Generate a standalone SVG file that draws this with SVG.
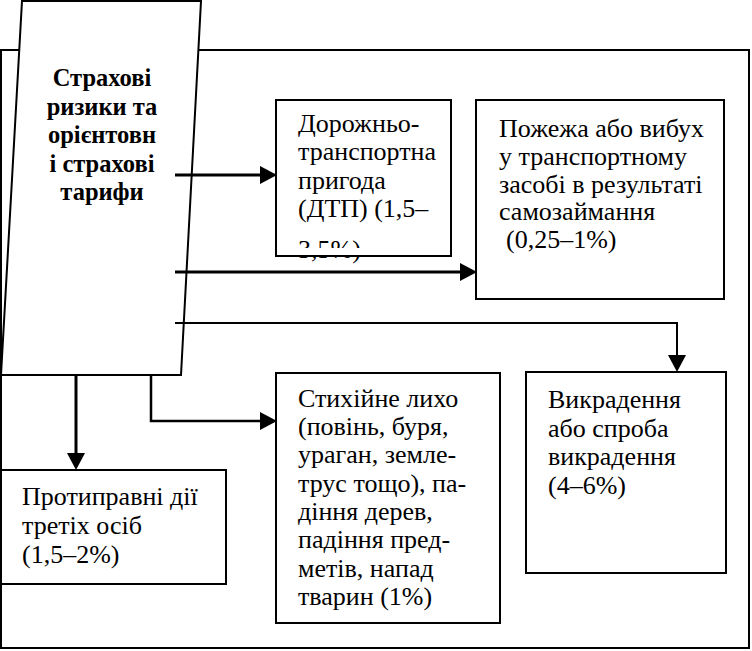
<svg xmlns="http://www.w3.org/2000/svg" width="752" height="651" viewBox="0 0 752 651">
<rect id="frame" x="1" y="50" width="748" height="598" fill="#fff" stroke="#000" stroke-width="2"/>
<g id="main">
<polygon points="22,1 201,1 181,375 1,375" fill="#fff" stroke="#000" stroke-width="2"/>
<text x="102" y="86" font-family="Liberation Serif" font-size="24.5" font-weight="bold" text-anchor="middle">Страхові</text>
<text x="102" y="115" font-family="Liberation Serif" font-size="24.5" font-weight="bold" text-anchor="middle">ризики та</text>
<text x="102" y="143" font-family="Liberation Serif" font-size="24.5" font-weight="bold" text-anchor="middle">орієнтовн</text>
<text x="102" y="172" font-family="Liberation Serif" font-size="24.5" font-weight="bold" text-anchor="middle">і страхові</text>
<text x="102" y="200" font-family="Liberation Serif" font-size="24.5" font-weight="bold" text-anchor="middle">тарифи</text>
</g>
<g id="dtp">
<rect x="276" y="100" width="175" height="156" fill="#fff" stroke="#000" stroke-width="2"/>
<text x="298" y="132" font-family="Liberation Serif" font-size="26">Дорожньо-</text>
<text x="298" y="160" font-family="Liberation Serif" font-size="26">транспортна</text>
<text x="298" y="189" font-family="Liberation Serif" font-size="26">пригода</text>
<text x="298" y="217" font-family="Liberation Serif" font-size="26">(ДТП) (1,5–</text>
<text x="298" y="258" font-family="Liberation Serif" font-size="26">3,5%)</text>
<rect x="277" y="248" width="173" height="7" fill="#fff"/>
</g>
<g id="fire">
<rect x="476" y="100" width="248" height="199" fill="#fff" stroke="#000" stroke-width="2"/>
<text x="499" y="137" font-family="Liberation Serif" font-size="26">Пожежа або вибух</text>
<text x="499" y="165" font-family="Liberation Serif" font-size="26">у транспортному</text>
<text x="499" y="193" font-family="Liberation Serif" font-size="26">засобі в результаті</text>
<text x="499" y="220" font-family="Liberation Serif" font-size="26">самозаймання</text>
<text x="506" y="248" font-family="Liberation Serif" font-size="26">(0,25–1%)</text>
</g>
<g id="theft">
<rect x="526" y="372" width="200" height="201" fill="#fff" stroke="#000" stroke-width="2"/>
<text x="548" y="408" font-family="Liberation Serif" font-size="26">Викрадення</text>
<text x="548" y="437" font-family="Liberation Serif" font-size="26">або спроба</text>
<text x="548" y="465" font-family="Liberation Serif" font-size="26">викрадення</text>
<text x="548" y="494" font-family="Liberation Serif" font-size="26">(4–6%)</text>
</g>
<g id="illegal">
<rect x="1" y="470" width="225" height="114" fill="#fff" stroke="#000" stroke-width="2"/>
<text x="22" y="505" font-family="Liberation Serif" font-size="26">Протиправні дії</text>
<text x="22" y="534" font-family="Liberation Serif" font-size="26">третіх осіб</text>
<text x="22" y="563" font-family="Liberation Serif" font-size="26">(1,5–2%)</text>
</g>
<g id="disaster">
<rect x="276" y="373" width="224" height="250" fill="#fff" stroke="#000" stroke-width="2"/>
<text x="298" y="407" font-family="Liberation Serif" font-size="26">Стихійне лихо</text>
<text x="298" y="435" font-family="Liberation Serif" font-size="26">(повінь, буря,</text>
<text x="298" y="463" font-family="Liberation Serif" font-size="26">ураган, земле-</text>
<text x="298" y="492" font-family="Liberation Serif" font-size="26">трус тощо), па-</text>
<text x="298" y="520" font-family="Liberation Serif" font-size="26">діння дерев,</text>
<text x="298" y="548" font-family="Liberation Serif" font-size="26">падіння пред-</text>
<text x="298" y="577" font-family="Liberation Serif" font-size="26">метів, напад</text>
<text x="298" y="605" font-family="Liberation Serif" font-size="26">тварин (1%)</text>
</g>
<g id="connectors">
<path d="M175,175 H261" fill="none" stroke="#000" stroke-width="3"/>
<polygon points="260,166 277,175 260,184" fill="#000"/>
<path d="M175,272 H461" fill="none" stroke="#000" stroke-width="3"/>
<polygon points="460,263 477,272 460,281" fill="#000"/>
<path d="M175,323 H677 V356" fill="none" stroke="#000" stroke-width="2"/>
<polygon points="668,355 677,372 686,355" fill="#000"/>
<path d="M76,375 V454" fill="none" stroke="#000" stroke-width="3"/>
<polygon points="67,453 76,470 85,453" fill="#000"/>
<path d="M151,375 V421 H261" fill="none" stroke="#000" stroke-width="2.5"/>
<polygon points="260,412 277,421 260,430" fill="#000"/>
</g>
</svg>
